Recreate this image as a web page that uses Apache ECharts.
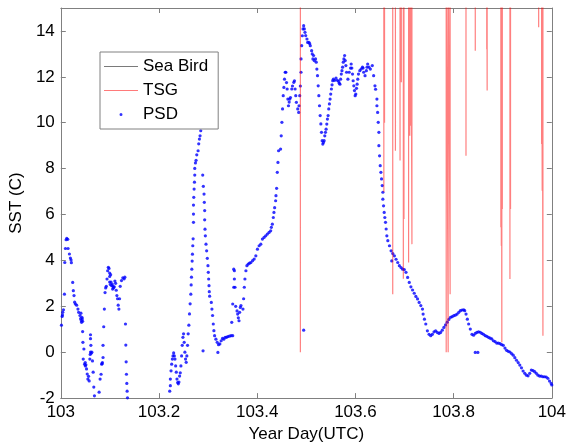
<!DOCTYPE html>
<html><head><meta charset="utf-8">
<script src="https://cdn.jsdelivr.net/npm/echarts@6/dist/echarts.min.js"></script>
<style>html,body{margin:0;padding:0;background:#fff}#c{width:569px;height:448px}</style>
</head><body><div id="c"></div>
<script>
// ---- Data (Year Day, SST in C) ----
const xTickValues = [103, 103.2, 103.4, 103.6, 103.8, 104];
const yTickValues = [-2, 0, 2, 4, 6, 8, 10, 12, 14];

const psdEarly = [
 [103.0013,1.18],[103.0027,1.56],[103.0034,1.62],[103.0040,1.74],[103.0054,1.85],[103.0074,2.53],[103.0081,3.91],
 [103.0094,4.52],[103.0108,4.90],[103.0121,4.96],[103.0141,4.92],[103.0148,4.52],[103.0175,4.28],[103.0195,4.10],
 [103.0208,4.02],[103.0215,3.90],[103.0242,3.04],[103.0255,2.68],[103.0269,2.47],[103.0282,2.18],[103.0296,2.10],
 [103.0323,2.05],[103.0349,1.88],[103.0363,1.74],[103.0390,1.60],[103.0403,1.46],[103.0410,1.70],[103.0417,1.38],
 [103.0423,1.30],[103.0430,1.52],[103.0437,1.45],[103.0444,1.35],[103.0444,0.90],[103.0450,0.43],[103.0470,0.14],
 [103.0457,-0.30],[103.0484,-0.52],[103.0497,-0.45],[103.0500,-0.60],[103.0511,-0.55],[103.0524,-0.73],[103.0538,-0.95],
 [103.0551,-1.17],[103.0565,-1.05],[103.0578,-1.25],[103.0591,-0.30],[103.0598,-0.10],[103.0605,0.01],[103.0612,0.30],
 [103.0605,0.59],[103.0605,0.76],[103.0618,-0.05],[103.0632,0.00],[103.0645,-0.38],[103.0659,-0.87],[103.0672,-1.52],
 [103.0685,-1.90],[103.0780,-1.74],[103.0800,-1.17],[103.0820,-0.96],[103.0833,-0.52],[103.0840,-0.50],[103.0847,-0.45],
 [103.0860,-0.23],[103.0860,0.30],[103.0874,1.11],[103.0887,1.88],[103.0901,2.60],[103.0914,2.80],[103.0927,2.87],
 [103.0941,3.19],[103.0954,3.55],[103.0968,3.70],[103.0981,3.65],[103.0995,3.45],[103.0995,3.30],[103.1015,3.38],
 [103.0995,3.06],[103.1008,2.95],[103.1022,3.06],[103.1035,2.90],[103.1048,2.97],[103.1055,2.75],[103.1062,2.87],
 [103.1075,2.80],[103.1089,2.85],[103.1102,3.10],[103.1116,3.00],[103.1129,2.70],[103.1142,2.47],[103.1156,2.33],
 [103.1169,2.05],[103.1183,1.88],[103.1196,2.33],[103.1210,2.87],[103.1236,3.12],[103.1263,3.24],[103.1290,3.20],
 [103.1304,3.27],[103.1317,1.23],[103.1324,0.31],[103.1331,-0.42],[103.1337,-0.96],[103.1344,-1.36],[103.1351,-1.70],
 [103.1358,-1.99]
];

const psdRise = [
 [103.2204,-2.04],[103.2218,-1.70],[103.2231,-1.46],[103.2231,-1.17],[103.2245,-0.81],[103.2258,-0.52],[103.2272,-0.30],
 [103.2285,-0.16],[103.2298,-0.03],[103.2312,-0.16],[103.2325,-0.30],[103.2339,-0.60],[103.2352,-0.87],[103.2366,-1.17],
 [103.2379,-1.32],[103.2393,-1.38],[103.2406,-1.30],[103.2419,-1.04],[103.2433,-0.90],[103.2446,-0.60],[103.2460,-0.16],
 [103.2473,0.30],[103.2487,0.65],[103.2500,0.80],[103.2513,0.43],[103.2527,0.00],[103.2540,-0.30],[103.2554,-0.44],
 [103.2567,-0.16],[103.2581,0.30],[103.2594,0.80],[103.2608,1.18],[103.2621,1.67],[103.2634,2.11],[103.2648,2.53],
 [103.2655,2.93],[103.2661,3.27],[103.2668,3.62],[103.2675,3.97],[103.2681,4.27],[103.2688,4.64],[103.2695,4.94],
 [103.2702,5.66],[103.2702,6.02],[103.2702,6.41],[103.2708,6.75],[103.2715,7.11],[103.2722,7.41],[103.2728,7.72],
 [103.2728,8.01],[103.2742,8.25],[103.2755,8.36],[103.2769,8.60],[103.2796,8.78],[103.2809,9.08],[103.2823,9.29],
 [103.2836,9.43],[103.2850,9.65],[103.2863,9.80],
 [103.2890,7.72],[103.2903,7.23],[103.2917,6.89],[103.2923,6.53],[103.2930,6.17],[103.2930,5.77],[103.2937,5.36],
 [103.2944,5.07],[103.2957,4.71],[103.2970,4.42],[103.2984,4.09],[103.2997,3.77],[103.3004,3.48],[103.3011,3.19],
 [103.3018,2.90],[103.3024,2.64],[103.3031,2.44],[103.3065,2.17],[103.3078,1.88],[103.3091,1.60],[103.3105,1.23],
 [103.3118,0.94],[103.3132,0.72],[103.3159,0.57],[103.3185,0.43],[103.3212,0.33],[103.3239,0.36],[103.3266,0.50],
 [103.3293,0.60],[103.3320,0.57],[103.3347,0.65],[103.3374,0.65],[103.3401,0.68],[103.3434,0.70],[103.3468,0.72],
 [103.3501,0.72],[103.2897,0.06],[103.3199,-0.01],
 [103.3481,1.30],[103.3501,2.10],[103.3522,2.83],[103.3535,3.19],[103.3522,3.62],[103.3535,3.55],[103.3548,2.83],
 [103.3562,2.00],[103.3589,1.80],[103.3602,1.66],[103.3616,1.50],[103.3629,1.37],[103.3642,1.74],[103.3656,1.95],
 [103.3669,2.03],[103.3710,1.88],[103.3723,2.33],[103.3737,2.83],[103.3750,3.19],[103.3770,3.55],[103.3790,3.77],
 [103.3817,3.84],[103.3844,3.88],[103.3871,3.91],[103.3905,3.99],[103.3938,4.06],[103.3972,4.20],[103.4005,4.49],
 [103.4039,4.64],[103.4073,4.71],[103.4106,4.93],[103.4140,5.00],[103.4173,5.07],[103.4207,5.15],[103.4241,5.22],
 [103.4274,5.29],[103.4288,5.44],[103.4308,5.58],[103.4328,5.87],[103.4341,6.09],[103.4355,6.30],[103.4375,6.60],
 [103.4382,6.82],[103.4395,7.14],[103.4409,7.84],[103.4422,8.27],[103.4435,8.78],[103.4476,8.85]
];

const psdPeak = [
 [103.4489,9.43],[103.4503,10.02],[103.4516,10.60],[103.4530,11.18],[103.4543,11.54],[103.4556,11.90],[103.4570,12.20],
 [103.4583,12.20],[103.4597,11.75],[103.4610,11.47],[103.4624,11.03],[103.4637,10.74],[103.4651,10.90],[103.4664,11.03],
 [103.4677,11.10],[103.4704,11.47],[103.4718,11.60],[103.4745,11.76],[103.4758,11.83],[103.4772,11.47],[103.4785,11.18],
 [103.4798,10.89],[103.4825,10.60],[103.4845,10.45],[103.4852,10.74],[103.4866,11.18],[103.4879,11.60],[103.4892,12.20],
 [103.4892,12.78],[103.4906,13.36],[103.4919,13.79],[103.4933,14.09],[103.4946,14.23],[103.4960,14.09],[103.4973,13.94],
 [103.4987,13.80],[103.5013,13.65],[103.5027,13.50],[103.5054,13.50],[103.5067,13.45],[103.5081,13.36],[103.5108,13.14],
 [103.5121,13.00],[103.5134,12.78],[103.5148,12.93],[103.5161,12.71],[103.5188,12.78],[103.5202,12.64],[103.5215,12.34],
 [103.5228,12.05],[103.5242,11.61],[103.5255,11.18],[103.5269,10.74],[103.5282,10.31],[103.5296,9.95],[103.5309,9.58],
 [103.5323,9.22],[103.5336,9.07],[103.5349,9.14],[103.5363,9.22],[103.5376,9.43],[103.5390,9.58],[103.5403,9.72],
 [103.5417,9.94],[103.5430,10.16],[103.5444,10.31],[103.5457,10.60],[103.5470,10.82],[103.5484,11.03],[103.5497,11.25],
 [103.5511,11.47],[103.5524,11.65],[103.5538,11.83],[103.5551,11.90],[103.5578,11.85],[103.5605,11.95],[103.5632,11.85],
 [103.5659,11.80],[103.5672,11.72],[103.5685,11.68],[103.5699,11.90],[103.5712,12.12],[103.5726,12.27],[103.5739,12.42],
 [103.5753,12.64],[103.5766,12.78],[103.5780,12.93],[103.5793,12.71],[103.5806,12.49],[103.5820,12.20],[103.5847,11.90],
 [103.5874,12.20],[103.5901,12.38],[103.5914,12.56],[103.5927,12.38],[103.5941,12.12],[103.5954,11.83],[103.5968,11.61],
 [103.5981,11.40],[103.5995,11.18],[103.6008,11.25],[103.6022,11.50],[103.6035,11.68],[103.6048,11.90],[103.6062,12.12],
 [103.6089,12.27],[103.6116,12.34],[103.6143,12.42],[103.6156,12.38],[103.6169,12.20],[103.6196,12.05],[103.6223,12.27],
 [103.6237,12.42],[103.6250,12.56],[103.6277,12.42],[103.6304,12.34],[103.6344,12.49],
 [103.4946,0.96]
];

const psdDecline = [
 [103.6371,12.05],[103.6398,11.61],[103.6411,11.46],[103.6438,11.03],[103.6438,10.74],[103.6452,10.45],[103.6465,10.02],
 [103.6478,9.58],[103.6478,9.00],[103.6492,8.56],[103.6505,8.13],[103.6519,7.84],[103.6532,7.55],[103.6546,7.26],
 [103.6559,6.97],[103.6559,6.67],[103.6573,6.38],[103.6586,6.09],[103.6599,5.87],[103.6613,5.66],[103.6626,5.37],
 [103.6640,5.07],[103.6660,4.86],[103.6694,4.64],[103.6727,4.42],[103.6761,4.30],[103.6794,4.20],[103.6828,4.05],
 [103.6862,3.91],[103.6895,3.77],[103.6929,3.69],[103.6962,3.62],[103.6996,3.60],[103.7030,3.48],[103.7063,3.26],
 [103.7097,3.04],[103.7130,2.85],[103.7164,2.71],[103.7198,2.57],[103.7231,2.43],[103.7265,2.32],[103.7298,2.17],
 [103.7332,2.03],[103.7366,1.88],[103.7379,1.66],[103.7406,1.44],[103.7433,1.23],[103.7466,0.93],[103.7500,0.78],
 [103.7534,0.72],[103.7567,0.78],[103.7601,0.89],[103.7634,0.93],[103.7668,0.86],[103.7702,0.82],[103.7735,0.86],
 [103.7769,0.96],[103.7802,1.08],[103.7836,1.19],[103.7870,1.31],[103.7903,1.43],[103.7937,1.52],[103.7970,1.55],
 [103.8004,1.59],[103.8038,1.62],[103.8071,1.66],[103.8105,1.74],[103.8138,1.81],[103.8172,1.84],[103.8206,1.85],
 [103.8226,1.81],[103.8253,1.66],[103.8280,1.44],[103.8306,1.23],[103.8340,1.01],[103.8374,0.78],[103.8407,0.74],
 [103.8441,0.82],[103.8474,0.86],[103.8508,0.89],[103.8542,0.87],[103.8575,0.82],[103.8609,0.78],[103.8643,0.72],
 [103.8676,0.69],[103.8710,0.65],[103.8743,0.61],[103.8777,0.58],[103.8810,0.50],[103.8844,0.46],[103.8878,0.40],
 [103.8911,0.40],[103.8945,0.37],[103.8978,0.33],[103.9012,0.30],[103.9046,0.18],[103.9079,0.08],[103.9113,0.04],
 [103.9147,0.01],[103.9180,-0.06],[103.9214,-0.13],[103.9247,-0.24],[103.9281,-0.35],[103.9315,-0.45],[103.9348,-0.56],
 [103.9382,-0.68],[103.9415,-0.82],[103.9449,-0.92],[103.9483,-1.00],[103.9516,-1.03],[103.9550,-0.92],[103.9583,-0.78],
 [103.9617,-0.80],[103.9651,-0.85],[103.9684,-0.92],[103.9718,-1.00],[103.9751,-1.04],[103.9785,-1.04],[103.9819,-1.07],
 [103.9852,-1.07],[103.9886,-1.08],[103.9919,-1.14],[103.9953,-1.26],[103.9987,-1.36],[104.0000,-1.43],
 [103.6740,3.98],[103.8441,-0.01],[103.8494,-0.01]
];

// TSG: readings mostly above the plotted range; dips down to these minima
const tsgDay = [103.4879,103.6579,103.6593,103.6760,103.6815,103.6909,103.6935,103.6976,103.6989,103.7083,
  103.7107,103.7127,103.7151,103.7849,103.7889,103.7929,103.8252,103.8441,103.8675,103.8683,
  103.8962,103.8972,103.8982,103.8992,103.9147,103.9159,103.9732,103.9792,103.9804,103.9819];
const tsgLow = [0.0,6.98,10.0,2.53,8.78,8.35,11.76,3.2,5.8,3.91,
  9.43,9.87,4.71,0.0,0.0,2.53,8.56,13.14,13.2,11.4,
  5.44,4.64,0.43,6.24,3.19,6.24,14.16,9.07,7.04,0.72];
const tsgHigh = 20; // off-scale TSG level between dips

const seaBird = []; // Sea Bird trace lies outside the plotted range

// ---- Build ----
const tsgData = [];
for (let i = 0; i < tsgDay.length; i++) {
  tsgData.push([tsgDay[i], tsgHigh], [tsgDay[i], tsgLow[i]], [tsgDay[i], tsgHigh]);
}
const psdData = psdEarly.concat(psdRise, psdPeak, psdDecline);

const font = '"Liberation Sans", Arial, sans-serif';
const gray = '#808080';
const tsgColor = 'rgba(255,0,0,0.5)';
// legend glyphs: a thin bar for the line series, a small dot within the same box for PSD
const lineIcon = 'path://M0,0 L34,0 L34,1.2 L0,1.2 Z';
const dotIcon = 'path://M0,0 L0.01,0 L0,0.01 Z M15.5,0.5 A1.5,1.5 0 1 1 18.5,0.5 A1.5,1.5 0 1 1 15.5,0.5 Z M34,1.2 L33.99,1.2 L34,1.19 Z';
const chart = echarts.init(document.getElementById('c'));
const tickLabel = {color: '#000', fontSize: 17, fontFamily: font};
const boxLine = {onZero: false, lineStyle: {color: gray}};
const boxTick = {show: true, inside: true, length: 5, lineStyle: {color: gray}};
chart.setOption({
  animation: false,
  backgroundColor: '#fff',
  grid: {left: 58, right: 15, top: 8, bottom: 49},
  legend: {
    orient: 'vertical', left: 100, top: 52,
    backgroundColor: '#fff', borderColor: gray, borderWidth: 1,
    padding: [6, 10, 6, 4], itemWidth: 34, itemHeight: 4, itemGap: 7,
    selectedMode: false,
    textStyle: {fontFamily: font, fontSize: 17, color: '#000'},
    data: [
      {name: 'Sea Bird', icon: lineIcon, itemStyle: {color: '#7a7a7a'}},
      {name: 'TSG', icon: lineIcon, itemStyle: {color: '#ff7a7a'}},
      {name: 'PSD', icon: dotIcon, itemStyle: {color: '#0000ff'}}
    ]
  },
  xAxis: [{
    type: 'value', min: xTickValues[0], max: xTickValues[xTickValues.length - 1], interval: 0.2,
    position: 'bottom', name: 'Year Day(UTC)', nameLocation: 'middle', nameGap: 27,
    nameTextStyle: {color: '#000', fontSize: 17, fontFamily: font},
    axisLine: boxLine, axisTick: boxTick,
    axisLabel: Object.assign({margin: 6}, tickLabel), splitLine: {show: false}
  }, {
    type: 'value', min: xTickValues[0], max: xTickValues[xTickValues.length - 1], interval: 0.2,
    position: 'top', axisLine: boxLine, axisTick: boxTick,
    axisLabel: {show: false}, splitLine: {show: false}
  }],
  yAxis: [{
    type: 'value', min: yTickValues[0], max: 15, interval: 2, position: 'left',
    name: 'SST (C)', nameLocation: 'middle', nameGap: 24,
    nameTextStyle: {color: '#000', fontSize: 17, fontFamily: font},
    axisLine: Object.assign({show: true}, boxLine), axisTick: boxTick,
    axisLabel: Object.assign({margin: 6, showMaxLabel: false}, tickLabel), splitLine: {show: false}
  }, {
    type: 'value', min: yTickValues[0], max: 15, interval: 2, position: 'right',
    axisLine: Object.assign({show: true}, boxLine), axisTick: boxTick,
    axisLabel: {show: false}, splitLine: {show: false}
  }],
  series: [
    {name: 'Sea Bird', type: 'line', data: seaBird, symbol: 'none',
     lineStyle: {color: gray, width: 1}, itemStyle: {color: gray}},
    {name: 'TSG', type: 'line', data: tsgData, symbol: 'none', clip: true,
     lineStyle: {color: tsgColor, width: 1.2}, itemStyle: {color: tsgColor}},
    {name: 'PSD', type: 'scatter', data: psdData, symbolSize: 3.2,
     itemStyle: {color: '#0000ff'}}
  ]
});
</script></body></html>
